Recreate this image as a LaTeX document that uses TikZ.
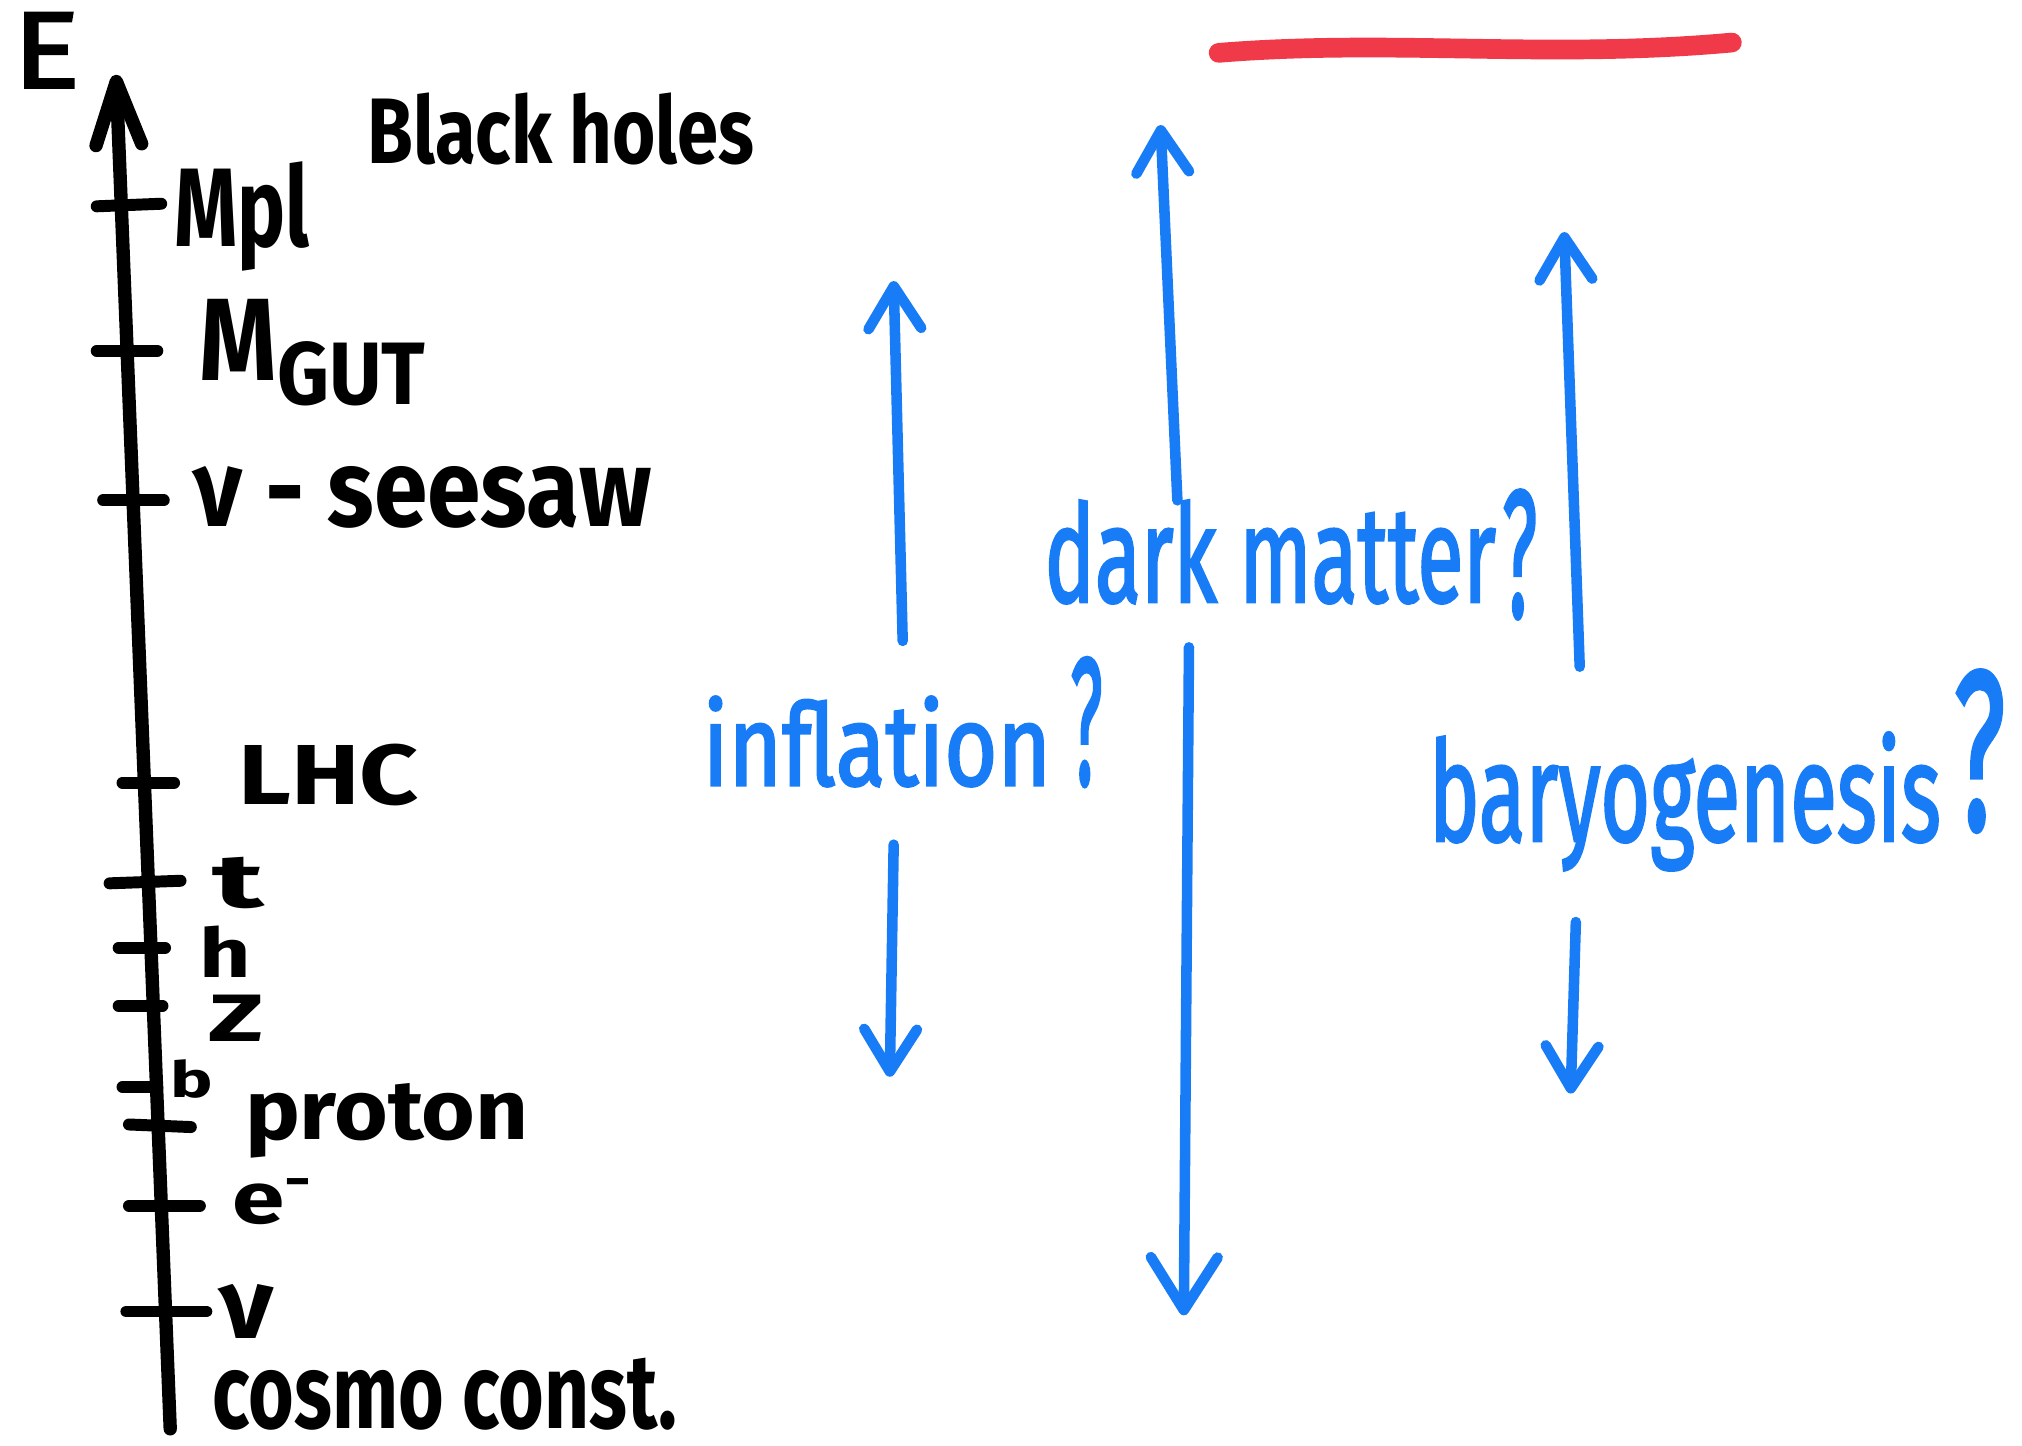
\documentclass[tikz,border=0pt]{standalone}
\usepackage{fontspec}
\setmainfont{Fira Sans}
\newfontfamily\hwbluefont[FakeBold=2.2]{Fira Sans}
\usepackage{graphicx}
\usetikzlibrary{arrows.meta}
\newlength\hwu
\setlength\hwu{0.012895cm}
\newcommand\hwfit[3]{\resizebox*{#1\hwu}{#2\hwu}{#3}}
\definecolor{hwblue}{RGB}{24,124,246}
\definecolor{hwred}{RGB}{240,58,74}
\tikzset{
  hw/.style={inner sep=0pt, outer sep=0pt, anchor=north west},
  hwk/.style={hw, text=black, font=\bfseries},
  hwb/.style={hw, text=hwblue, font=\hwbluefont},
  axisline/.style={line width=3.8pt, line cap=round, black},
  tickline/.style={line width=3.4pt, line cap=round, black},
  bluearrow/.style={line width=3pt, line cap=round, hwblue, -{Straight Barb[length=12pt,width=15pt,round]}},
  bigbluearrow/.style={line width=3pt, line cap=round, hwblue, -{Straight Barb[length=15pt,width=19pt,round]}},
  redline/.style={line width=5.6pt, line cap=round, hwred},
}
\begin{document}
\begin{tikzpicture}[x=0.012895cm, y=-0.012895cm]
\useasboundingbox (0,0) rectangle (1568,1121);

% red underline (title cut off above)
\coordinate (ulA) at (945,41);
\coordinate (ulB) at (1343,33);
\draw[redline] (ulA) .. controls (1080,30) and (1200,46) .. (ulB);

% energy axis
\node[hw, text=black, font=\hwbluefont] (E) at (10,10) {\hwfit{52}{58}{E}};
\coordinate (axbot) at (132,1108);
\coordinate (axtop) at (90,58);
\draw[axisline, -{Straight Barb[length=18pt,width=13pt,round]}] (axbot) -- (axtop);

% ticks
\draw[tickline] (75,160) -- (125,158);
\draw[tickline] (75,272) -- (122,272);
\draw[tickline] (80,388) -- (127,388);
\draw[tickline] (95,607) -- (135,607);
\draw[tickline] (85,685) -- (140,683);
\draw[tickline] (92,735) -- (128,735);
\draw[tickline] (92,780) -- (126,780);
\draw[tickline] (95,843) -- (122,843);
\draw[tickline] (100,872) -- (148,874);
\draw[tickline] (100,935) -- (155,935);
\draw[tickline] (98,1017) -- (160,1017);

% black labels
\node[hwk] (bh) at (285,72) {\hwfit{300}{56}{Black holes}};
\node[hwk] (mpl) at (135,125) {\hwfit{105}{85}{Mpl}};
\node[hwk] (mgutM) at (155,232) {\hwfit{60}{63}{M}};
\node[hwk] (mgutS) at (215,265) {\hwfit{115}{50}{GUT}};
\node[hwk] (seesaw) at (150,362) {\hwfit{355}{48}{ν - seesaw}};
\node[hwk] (lhc) at (185,577) {\hwfit{140}{48}{LHC}};
\node[hwk] (top) at (165,665) {\hwfit{40}{40}{t}};
\node[hwk] (higgs) at (155,718) {\hwfit{40}{40}{h}};
\node[hwk] (zb) at (162,772) {\hwfit{43}{36}{Z}};
\node[hwk] (bq) at (132,822) {\hwfit{33}{30}{b}};
\node[hwk] (proton) at (190,840) {\hwfit{220}{58}{proton}};
\node[hwk] (elec) at (180,914) {\hwfit{65}{36}{e\textsuperscript{-}}};
\node[hwk] (nu) at (170,996) {\hwfit{42}{42}{ν}};
\node[hwk] (cc) at (165,1053) {\hwfit{360}{56}{cosmo const.}};

% blue labels
\node[hwb] (infl) at (545,540) {\hwfit{270}{70}{inflation}};
\node[hwb] (inflq) at (830,510) {\hwfit{25}{100}{?}};
\node[hwb] (dm) at (810,388) {\hwfit{350}{80}{dark matter}};
\node[hwb] (dmq) at (1165,380) {\hwfit{27}{100}{?}};
\node[hwb] (bary) at (1108,568) {\hwfit{397}{107}{baryogenesis}};
\node[hwb] (baryq) at (1515,520) {\hwfit{40}{125}{?}};

% blue arrows
\coordinate (inflUpS) at (700,497);
\coordinate (inflUpT) at (693,218);
\coordinate (inflDnS) at (693,655);
\coordinate (inflDnT) at (690,835);
\coordinate (dmUpS) at (913,388);
\coordinate (dmUpT) at (900,97);
\coordinate (dmDnS) at (922,502);
\coordinate (dmDnT) at (918,1020);
\coordinate (baUpS) at (1225,517);
\coordinate (baUpT) at (1213,180);
\coordinate (baDnS) at (1222,715);
\coordinate (baDnT) at (1218,848);
\draw[bluearrow] (inflUpS) -- (inflUpT);
\draw[bluearrow] (inflDnS) -- (inflDnT);
\draw[bluearrow] (dmUpS) -- (dmUpT);
\draw[bigbluearrow] (dmDnS) -- (dmDnT);
\draw[bluearrow] (baUpS) -- (baUpT);
\draw[bluearrow] (baDnS) -- (baDnT);
\end{tikzpicture}
\end{document}
